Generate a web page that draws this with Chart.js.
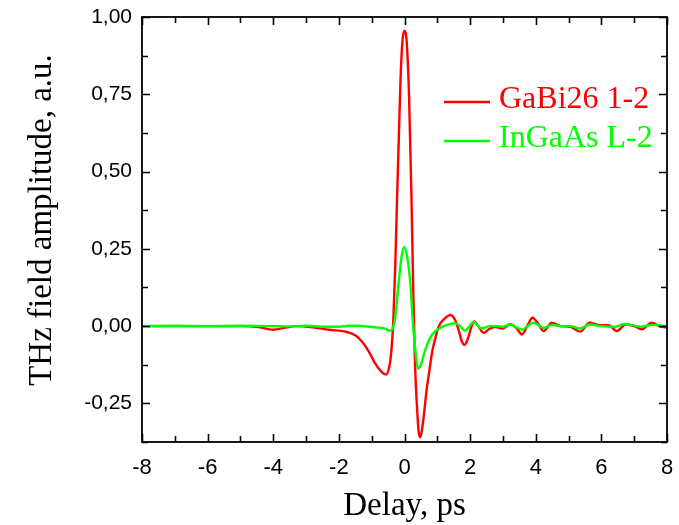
<!DOCTYPE html>
<html>
<head>
<meta charset="utf-8">
<title>THz field amplitude vs delay</title>
<script src="https://cdn.jsdelivr.net/npm/chart.js@4/dist/chart.umd.min.js"></script>
<style>
  html, body { margin: 0; padding: 0; background: #fff; }
  #wrap { width: 679px; height: 525px; position: relative; }
</style>
</head>
<body>
<div id="wrap"><canvas id="c" width="679" height="525"></canvas></div>
<script>
// Delay (ps) and THz field amplitude (a.u.) for the GaBi26 1-2 emitter
const gabiDelay = [-8, -6, -5, -4.5, -4.0, -3.6, -3.3, -2.8, -2.3, -1.8, -1.5, -1.3, -1.1, -0.9, -0.7,
  -0.57, -0.47, -0.40, -0.34, -0.28, -0.23, -0.17, -0.12, -0.06, 0.0, 0.07, 0.14, 0.21, 0.27, 0.32,
  0.38, 0.43, 0.48, 0.54, 0.60, 0.67, 0.75, 0.85, 0.95, 1.05, 1.2, 1.4, 1.55, 1.65, 1.75, 1.83, 1.95,
  2.03, 2.12, 2.25, 2.41, 2.6, 2.78, 3.0, 3.22, 3.4, 3.58, 3.75, 3.9, 4.07, 4.24, 4.49, 4.75, 5.05,
  5.36, 5.64, 5.92, 6.22, 6.47, 6.75, 7.04, 7.24, 7.53, 7.8, 8.0];
const gabiAmp = [0, 0, 0, -0.002, -0.012, -0.004, 0, -0.004, -0.012, -0.018, -0.030, -0.050, -0.080, -0.120, -0.148,
  -0.157, -0.135, -0.080, 0.02, 0.20, 0.40, 0.62, 0.80, 0.925, 0.956, 0.915, 0.74, 0.43, 0.10, -0.12,
  -0.26, -0.34, -0.36, -0.33, -0.28, -0.21, -0.15, -0.08, -0.035, 0.0, 0.022, 0.036, 0.018, -0.013, -0.05, -0.061, -0.035,
  -0.005, 0.015, 0.0, -0.022, -0.008, -0.003, -0.008, 0.006, -0.005, -0.027, 0.002, 0.027, 0.008, -0.016, 0.011, 0.0, -0.002,
  -0.018, 0.011, 0.003, 0.003, -0.016, 0.006, -0.002, -0.010, 0.011, -0.002, -0.004];

// Delay (ps) and THz field amplitude (a.u.) for the InGaAs L-2 reference emitter
const ingaasDelay = [-8, -7, -6, -5, -4, -3.5, -3, -2.5, -2.0, -1.7, -1.4, -1.0, -0.79, -0.6, -0.44,
  -0.35, -0.28, -0.18, -0.08, 0.0, 0.08, 0.17, 0.25, 0.33, 0.41, 0.5, 0.63, 0.8, 0.93, 1.1, 1.3,
  1.54, 1.7, 1.84, 1.97, 2.1, 2.36, 2.6, 2.8, 3.0, 3.22, 3.58, 3.93, 4.24, 4.49, 4.8, 5.05, 5.36,
  5.64, 6.0, 6.4, 6.72, 7.2, 7.56, 8.0];
const ingaasAmp = [0, 0.001, 0, 0.001, 0, -0.001, 0.001, -0.002, -0.002, 0.001, 0.001, -0.003, -0.005, -0.008, -0.015,
  -0.005, 0.03, 0.139, 0.23, 0.256, 0.225, 0.149, 0.02, -0.078, -0.137, -0.125, -0.078, -0.035, -0.018, -0.005, 0.004,
  0.009, 0.0, -0.015, -0.002, 0.013, -0.008, 0.0, 0.0, -0.002, 0.005, -0.011, 0.011, -0.006, 0.004, 0.0, 0.0, -0.008,
  0.005, 0.0, -0.002, 0.007, -0.002, 0.004, 0.0];

const seriesNames = ['GaBi26 1-2', 'InGaAs L-2'];
const seriesColors = ['#ff0000', '#00ff00'];

// Axis ticks and their printed labels (decimal comma)
const xTickValues = [-8, -6, -4, -2, 0, 2, 4, 6, 8];
const xTickLabels = ['-8', '-6', '-4', '-2', '0', '2', '4', '6', '8'];
const yTickValues = [-0.25, 0, 0.25, 0.5, 0.75, 1.0];
const yTickLabels = ['-0,25', '0,00', '0,25', '0,50', '0,75', '1,00'];
const xMinorStep = 1;
const yMinorStep = 0.125;

const xTitle = 'Delay, ps';
const yTitle = 'THz field amplitude, a.u.';

const toPoints = (xs, ys) => xs.map((v, i) => ({ x: v, y: ys[i] }));

const SANS = '"Liberation Sans", Arial, sans-serif';
const SERIF = '"Liberation Serif", "Times New Roman", serif';

// Closed frame with inward tick marks on all four sides
const framePlugin = {
  id: 'frame',
  afterDatasetsDraw(chart) {
    const { ctx, chartArea: a, scales: { x, y } } = chart;
    ctx.save();
    ctx.strokeStyle = '#000';
    ctx.lineWidth = 1.6;
    ctx.lineCap = 'butt';
    ctx.beginPath();
    for (let v = Math.ceil(x.min / xMinorStep) * xMinorStep; v <= x.max + 1e-9; v += xMinorStep) {
      const px = Math.round(x.getPixelForValue(v)) + 0.5;
      const len = xTickValues.includes(Math.round(v * 1000) / 1000) ? 8 : 6;
      ctx.moveTo(px, a.bottom); ctx.lineTo(px, a.bottom - len);
      ctx.moveTo(px, a.top); ctx.lineTo(px, a.top + len);
    }
    for (let v = Math.ceil(y.min / yMinorStep) * yMinorStep; v <= y.max + 1e-9; v += yMinorStep) {
      const py = Math.round(y.getPixelForValue(v)) + 0.5;
      const len = yTickValues.includes(Math.round(v * 1000) / 1000) ? 8 : 6;
      ctx.moveTo(a.left, py); ctx.lineTo(a.left + len, py);
      ctx.moveTo(a.right, py); ctx.lineTo(a.right - len, py);
    }
    ctx.stroke();
    ctx.lineWidth = 1.8;
    ctx.strokeRect(a.left, a.top, a.right - a.left, a.bottom - a.top);
    ctx.restore();
  },
  afterDraw(chart) {
    const { ctx, chartArea: a } = chart;
    ctx.save();
    // axis titles
    ctx.fillStyle = '#000';
    ctx.font = '33px ' + SERIF;
    ctx.textAlign = 'center';
    ctx.textBaseline = 'alphabetic';
    ctx.fillText(xTitle, (a.left + a.right) / 2, 515);
    ctx.save();
    ctx.translate(51, 220);
    ctx.rotate(-Math.PI / 2);
    ctx.fillText(yTitle, 0, 0);
    ctx.restore();
    // legend inside the plot, top right
    ctx.font = '32px ' + SERIF;
    ctx.textAlign = 'left';
    chart.data.datasets.forEach((ds, i) => {
      const ly = 102 + i * 39;
      ctx.strokeStyle = ds.borderColor;
      ctx.lineWidth = 2.4;
      ctx.beginPath();
      ctx.moveTo(444, ly);
      ctx.lineTo(490, ly);
      ctx.stroke();
      ctx.fillStyle = ds.borderColor;
      ctx.fillText(ds.label, 499, ly + 5.5);
    });
    ctx.restore();
  }
};

new Chart(document.getElementById('c'), {
  type: 'line',
  data: {
    datasets: [
      {
        label: seriesNames[0],
        data: toPoints(gabiDelay, gabiAmp),
        borderColor: seriesColors[0],
        backgroundColor: seriesColors[0],
        borderWidth: 2.4,
        pointRadius: 0,
        cubicInterpolationMode: 'monotone',
        order: 2
      },
      {
        label: seriesNames[1],
        data: toPoints(ingaasDelay, ingaasAmp),
        borderColor: seriesColors[1],
        backgroundColor: seriesColors[1],
        borderWidth: 2.4,
        pointRadius: 0,
        cubicInterpolationMode: 'monotone',
        order: 1
      }
    ]
  },
  options: {
    responsive: false,
    animation: false,
    events: [],
    layout: { padding: { left: 0, right: 12, top: 17, bottom: 0 } },
    plugins: { legend: { display: false }, tooltip: { enabled: false } },
    scales: {
      x: {
        type: 'linear',
        min: -8,
        max: 8,
        grid: { display: false, drawTicks: false },
        border: { display: false },
        afterBuildTicks: (s) => { s.ticks = xTickValues.map(v => ({ value: v })); },
        afterFit: (s) => { s.height = 83; s.paddingLeft = 0; s.paddingRight = 0; },
        ticks: {
          padding: 13,
          color: '#000',
          font: { family: SANS, size: 22 },
          maxRotation: 0,
          autoSkip: false,
          callback: (v) => xTickLabels[xTickValues.indexOf(v)]
        }
      },
      y: {
        type: 'linear',
        min: -0.375,
        max: 1.0,
        grid: { display: false, drawTicks: false },
        border: { display: false },
        afterBuildTicks: (s) => { s.ticks = yTickValues.map(v => ({ value: v })); },
        afterFit: (s) => { s.width = 142; s.paddingTop = 0; s.paddingBottom = 0; },
        ticks: {
          padding: 10,
          color: '#000',
          font: { family: SANS, size: 21 },
          autoSkip: false,
          callback: (v) => yTickLabels[yTickValues.indexOf(v)]
        }
      }
    }
  },
  plugins: [framePlugin]
});
</script>
</body>
</html>
